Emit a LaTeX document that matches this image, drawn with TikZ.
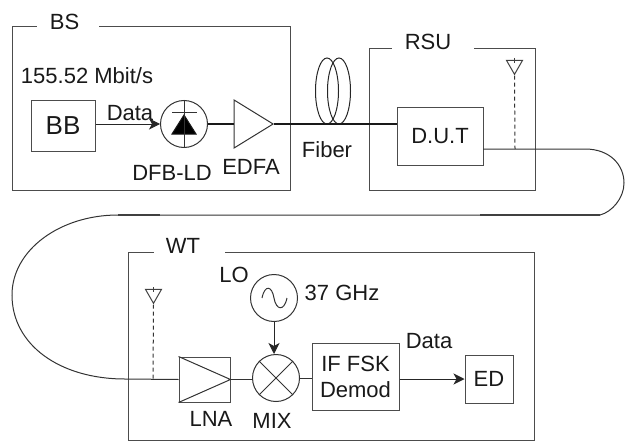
\documentclass[tikz,border=0pt]{standalone}
\usepackage{fontspec}
\setmainfont{Liberation Sans}
\usetikzlibrary{shapes.geometric, arrows.meta}
\begin{document}
\begin{tikzpicture}[x=1pt, y=-1pt, line width=1pt,
    txt/.style={inner sep=0pt, font=\fontsize{22}{26}\selectfont, text=black!90, align=center},
    unit/.style={rectangle, draw=black!70, inner sep=0pt, font=\fontsize{22}{26}\selectfont, text=black!90, align=center},
    zone/.style={rectangle, draw=black!70, inner sep=0pt},
    zonelabel/.style={txt, fill=white, minimum height=12pt},
    round/.style={circle, draw=black!80, inner sep=0pt, minimum size=47pt},
    amp/.style={isosceles triangle, isosceles triangle stretches, draw=black!80, inner sep=0pt, minimum width=48pt, minimum height=39pt},
    aerial/.style={isosceles triangle, isosceles triangle stretches, shape border rotate=-90, draw=black!75, inner sep=0pt, minimum width=16pt, minimum height=14pt},
    fiber/.style={line width=1.9pt, draw=black!90},
    fat/.style={line width=1.5pt, draw=black!75},
    wire/.style={draw=black!80},
    probe/.style={draw=black!80, dash pattern=on 4pt off 3pt},
    sig/.style={-{Stealth[length=11pt, width=11pt, inset=3pt]}, draw=black!85}]
    \useasboundingbox (0,0) rectangle (628,441);

    % Zones
    \node[zone, minimum width=278pt, minimum height=163pt] (BS) at (151,108.5) {};
    \node[zone, minimum width=166pt, minimum height=141pt] (RSU) at (452,119.5) {};
    \node[zone, minimum width=406pt, minimum height=188pt] (WT) at (331,346) {};
    \node[zonelabel, minimum width=62pt] (BSlabel) at (68,22) {BS\hspace{7pt}};
    \node[zonelabel, minimum width=82pt] (RSUlabel) at (433,42) {RSU\hspace{10pt}};
    \node[zonelabel, minimum width=71pt] (WTlabel) at (189.5,246) {WT\hspace{13pt}};

    % BS
    \node[unit, minimum width=64pt, minimum height=50pt, font=\fontsize{26}{30}\selectfont] (BB) at (63,126) {BB};
    \node[round] (LD) at (184,124) {};
    \node[amp] (EDFA) at (247.5,124) {};
    \node[txt] (rate) at (87,76) {155.52 Mbit/s};
    \node[txt] (dataA) at (130,113) {Data};
    \node[txt] (LDlabel) at (172,173) {DFB-LD};
    \node[txt] (EDFAlabel) at (251,167) {EDFA};
    \draw[black!90, fill=black] (172,134) -- (196,134) -- (184,115) -- cycle;
    \draw[black!80] (172,112) -- (197,112);
    \draw[black!80] (LD.north) -- (LD.south);

    % RSU
    \node[unit, minimum width=86pt, minimum height=58pt] (DUT) at (440,136) {D.U.T};
    \node[aerial] (aerialA) at (514.5,65) {};
    \coordinate (DUTout) at (483,149);
    \coordinate (tapA) at (515,149);
    \draw[probe] (aerialA.apex) -- (tapA);
    \draw[black!75] (514.5,58) -- (514.5,63);

    % Fiber
    \node[txt] (fiberlabel) at (327,150) {Fiber};
    \draw[black!85] (327,91) ellipse (11.5pt and 33pt);
    \draw[black!85] (339,91) ellipse (11.5pt and 33pt);
    \coordinate (DUTin) at (397,124);
    \draw[fiber] (LD.east) -- (EDFA.west);
    \draw[fiber] (EDFA.apex) -- (DUTin);

    % WT
    \node[unit, minimum width=51pt, minimum height=45pt] (LNA) at (204.5,379.5) {};
    \node[round] (MIX) at (276,378) {};
    \node[round] (OSC) at (274,298) {};
    \node[unit, minimum width=87pt, minimum height=67pt, execute at begin node={\setlength{\baselineskip}{26pt}}] (IF) at (355.5,376.5) {IF FSK\\Demod};
    \node[unit, minimum width=48pt, minimum height=48pt] (ED) at (489,379) {ED};
    \node[aerial] (aerialB) at (153.5,294) {};
    \node[txt] (LO) at (234,275) {LO};
    \node[txt] (freq) at (342,293) {37 GHz};
    \node[txt] (dataB) at (429,341) {Data};
    \node[txt] (LNAlabel) at (211,419) {LNA};
    \node[txt] (MIXlabel) at (272,421) {MIX};
    \coordinate (tapB) at (153,379);
    \draw[probe] (aerialB.apex) -- (tapB);
    \draw[black!75] (153.5,287) -- (153.5,292);
    \draw[black!80] (LNA.north west) -- (LNA.east) -- (LNA.south west);
    \draw[black!80] (MIX.45) -- (MIX.225) (MIX.135) -- (MIX.315);
    \draw[black!80] (262,298) .. controls (265,284) and (272,286) .. (274,298) .. controls (276,310) and (284,312) .. (287,298);

    % Links
    \draw[sig] (BB.east |- LD.west) -- (LD.west);
    \draw[wire] (LNA.east) -- (LNA.east -| MIX.west);
    \draw[wire] (MIX.east) -- (MIX.east -| IF.west);
    \draw[sig] (OSC.south) -- (OSC.south |- MIX.north);
    \draw[sig] (IF.east |- ED.west) -- (ED.west);

    % Long cable
    \coordinate (LNAin) at (125,379);
    \coordinate (bendA) at (600,215);
    \coordinate (bendB) at (118,215);
    \coordinate (fatA) at (480,215);
    \coordinate (fatB) at (160,215);
    \draw[wire] (DUTout) -- (585,149) .. controls (610,149) and (624,165) .. (624,183)
        .. controls (624,198) and (612,212) .. (bendA) -- (bendB)
        .. controls (60,215) and (12,250) .. (12,295)
        .. controls (12,345) and (60,379) .. (LNAin) -- (LNA.west);
    \draw[fat] (fatA) -- (bendA);
    \draw[fat] (bendB) -- (fatB);
\end{tikzpicture}
\end{document}
